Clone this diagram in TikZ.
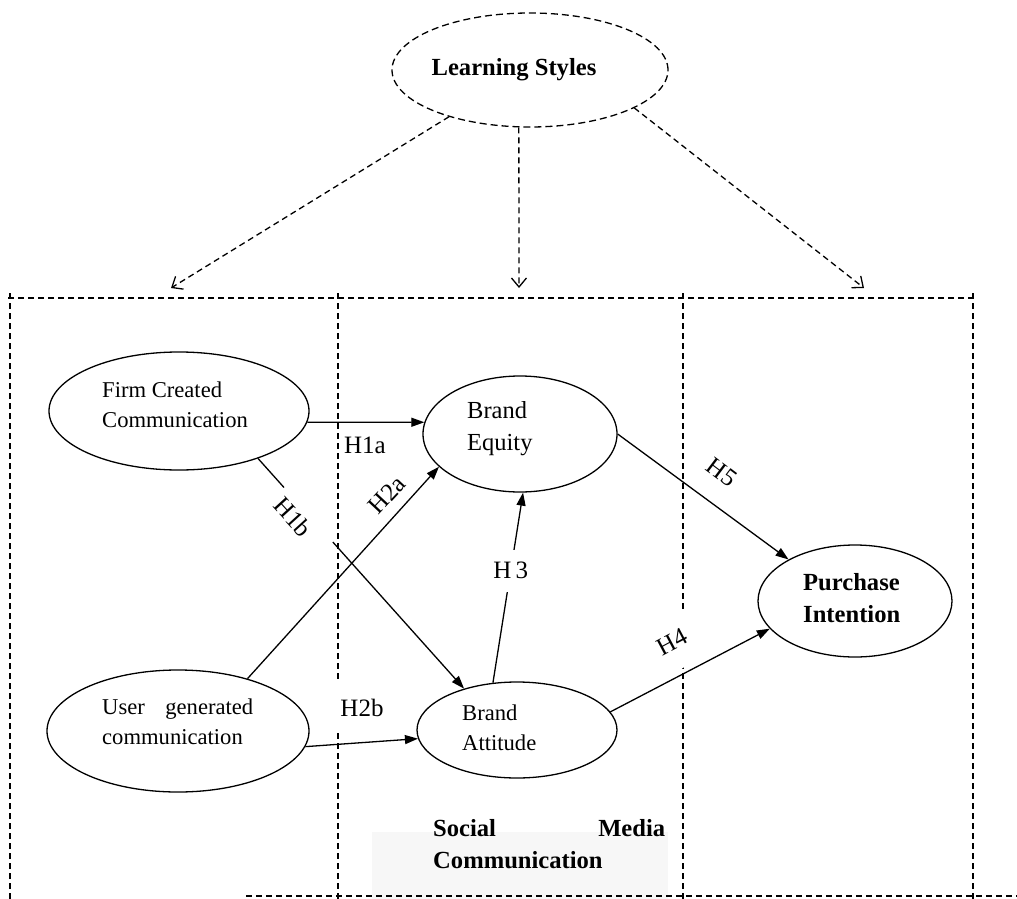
\documentclass[tikz,border=0pt]{standalone}
\usepackage{fontspec}
\setmainfont{Liberation Serif}
\usetikzlibrary{arrows.meta,calc,shapes.geometric}

\begin{document}
\begin{tikzpicture}[x=1pt,y=-1pt,
  ell/.style={draw, ellipse, line width=1.3pt, inner sep=0pt},
  txt/.style={inner sep=0pt, align=left, anchor=west, font=\fontsize{22.6}{30}\selectfont},
  btxt/.style={inner sep=0pt, align=left, anchor=west, font=\fontsize{24.6}{32}\selectfont\bfseries},
  lab/.style={inner sep=2pt, font=\fontsize{25}{30}\selectfont},
  arr/.style={line width=1.3pt, -{Triangle[length=13pt,width=9pt]}},
  plainline/.style={line width=1.3pt},
  frame/.style={line width=1.3pt, dash pattern=on 6pt off 4pt},
  dasharr/.style={line width=1.3pt, dash pattern=on 6pt off 4pt, -{Straight Barb[length=9pt,width=15pt]}},
]
\useasboundingbox (0,0) rectangle (1017,899);
\fill[white] (0,0) rectangle (1017,899);

% shaded strip under the column caption
\fill[black!3] (372,832) rectangle (668,899);

% dashed column frame
\draw[frame] (8,298) -- (973,298);
\foreach \xx in {10,338,683,973} \draw[frame] (\xx,293) -- (\xx,899);
\draw[frame] (246,896) -- (1017,896);

% labels that blank out the frame lines behind them
\node[lab, fill=white, minimum height=50pt, inner xsep=4pt] (h2b) at (362,708) {H2b};
\node[lab, fill=white, rotate=28, minimum width=48pt, minimum height=56pt] (h4) at (672,642) {H4};

% moderator
\node[ell, dash pattern=on 7pt off 4pt, minimum width=276pt, minimum height=114pt] (ls) at (530,70) {};
\node[btxt, anchor=center] (ls-t) at (514,70) {Learning Styles};
\coordinate (lt) at (171,288);
\coordinate (mt) at (519,288);
\coordinate (rt) at (864,288);
\draw[dasharr] (ls.210) -- (lt);
\draw[dasharr] (ls.-101) -- (mt);
\draw[dasharr] (ls.-20) -- (rt);

% constructs
\node[ell, minimum width=260pt, minimum height=118pt] (fc) at (179,411) {};
\node[txt] (fc-t) at (102,405) {Firm Created\\Communication};

\node[ell, minimum width=262pt, minimum height=122pt] (ug) at (178,731) {};
\node[txt, text width=151pt] (ug-t) at (102,722) {User\hfill generated\\communication};

\node[ell, minimum width=194pt, minimum height=116pt] (be) at (520,434) {};
\node[txt, font=\fontsize{24.5}{32}\selectfont] (be-t) at (467,429) {Brand\\Equity};

\node[ell, minimum width=200pt, minimum height=96pt] (ba) at (517,730) {};
\node[txt] (ba-t) at (462,728) {Brand\\Attitude};

\node[ell, minimum width=194pt, minimum height=112pt] (pi) at (855,601) {};
\node[btxt] (pi-t) at (803,598) {Purchase\\Intention};

% hypothesised paths
\draw[arr] (fc.-5) -- (be.173);
\node[lab] (h1a) at (365,445) {H1a};

\draw[plainline] (fc.-31) -- ($(fc.-31)!0.126!(ba.142)$);
\draw[arr] ($(fc.-31)!0.363!(ba.142)$) -- (ba.142);
\node[lab, rotate=-47.7] (h1b) at (293,517) {H1b};

\draw[arr] (ug.37.5) -- (be.202);
\node[lab, rotate=47] (h2a) at (387,495) {H2a};

\draw[arr] (ug.-7) -- (ba.185);

\draw[arr] (ba.117) -- node[pos=0.59, lab, fill=white, minimum height=42pt, inner xsep=1pt] (h3) {H\,3} (be.-87);

\draw[arr] (ba.11) -- (pi.198);

\draw[arr] (be.0) -- (pi.148);
\node[lab, rotate=-37] (h5) at (722,472) {H5};

% column caption
\node[btxt, text width=232pt] (smc) at (433,844) {Social\hfill Media\\Communication};
\end{tikzpicture}
\end{document}
